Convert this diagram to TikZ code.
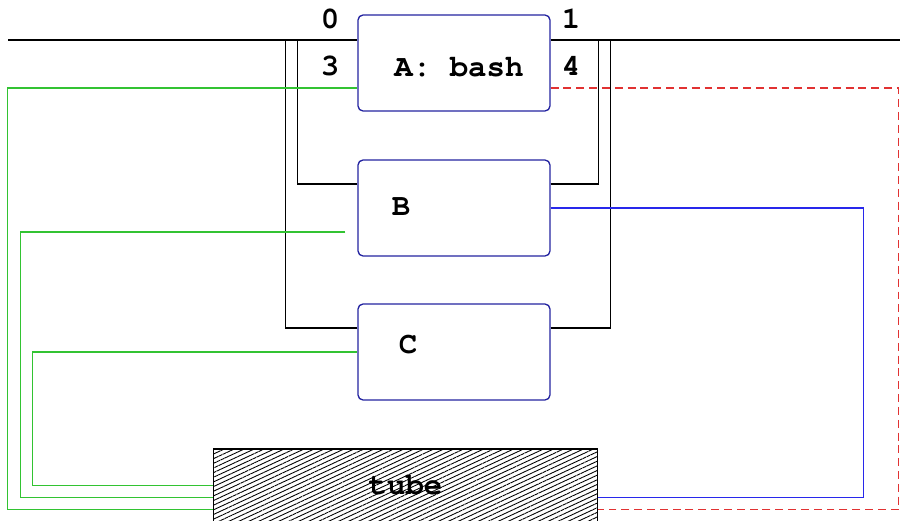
\documentclass[tikz,border=0pt]{standalone}
\usepackage[T1]{fontenc}
\usetikzlibrary{calc,patterns.meta}
\definecolor{procblue}{RGB}{35,35,160}
\definecolor{pipegreen}{RGB}{50,195,50}
\definecolor{outblue}{RGB}{40,40,235}
\definecolor{errred}{RGB}{225,50,50}
\tikzset{
  proc/.style={draw=procblue, line width=0.75pt, rounded corners=0.1cm,
    minimum width=3.84cm, minimum height=1.92cm, inner sep=0pt},
  mono/.style={font=\fontfamily{pcr}\fontseries{b}\fontsize{17.5}{20}\selectfont, inner sep=0pt},
  fd/.style={draw=black, line width=0.6pt},
  pipe/.style={draw=pipegreen, line width=0.8pt},
  stdout/.style={draw=outblue, line width=0.8pt},
  stderr/.style={draw=errred, line width=0.8pt, dash pattern=on 4.5pt off 2.8pt},
}
\begin{document}
\begin{tikzpicture}[x=0.02cm, y=-0.02cm]
\useasboundingbox (0,0) rectangle (900,521);
\node[proc] (A) at (454,63) {};
\node[proc] (B) at (454,208) {};
\node[proc] (C) at (454,352) {};
\node[mono, draw=black, line width=0.6pt, minimum width=7.7cm, minimum height=1.46cm,
  pattern={Lines[angle=25,distance=2.4pt,line width=0.5pt]}] (tube) at (405.5,485.5) {tube};
\node[mono] (Aname) at (459,67) {A: bash};
\node[mono] (Bname) at (401,207) {B};
\node[mono] (Cname) at (408,345) {C};
\node[mono] (fd0) at (330,19) {0};
\node[mono] (fd1) at (571,19) {1};
\node[mono] (fd3) at (330,66) {3};
\node[mono] (fd4) at (571,66) {4};
\coordinate (busL) at (8,40);
\coordinate (busR) at (900,40);
\draw[fd] (busL) -- (busL -| A.west);
\draw[fd] (busR -| A.east) -- (busR);
\draw[fd] ($(B.west)+(0,-24)$) -| ($(B.west |- busL)+(-60,0)$);
\draw[fd] ($(C.west)+(0,-24)$) -| ($(C.west |- busL)+(-72,0)$);
\draw[fd] ($(B.east)+(0,-24)$) -| ($(B.east |- busR)+(48,0)$);
\draw[fd] ($(C.east)+(0,-24)$) -| ($(C.east |- busR)+(60,0)$);
\draw[pipe] ($(A.west)+(0,25)$) -- ++(-350,0) |- ($(tube.west)+(0,24)$);
\draw[pipe] ($(B.west)+(-12,24)$) -- ++(-325,0) |- ($(tube.west)+(0,12)$);
\draw[pipe] (C.west) -- ++(-325,0) |- (tube.west);
\draw[stdout] (B.east) -- ++(313,0) |- ($(tube.east)+(0,12)$);
\draw[stderr] ($(A.east)+(0,25)$) -- ++(348,0) |- ($(tube.east)+(0,24)$);
\end{tikzpicture}
\end{document}
